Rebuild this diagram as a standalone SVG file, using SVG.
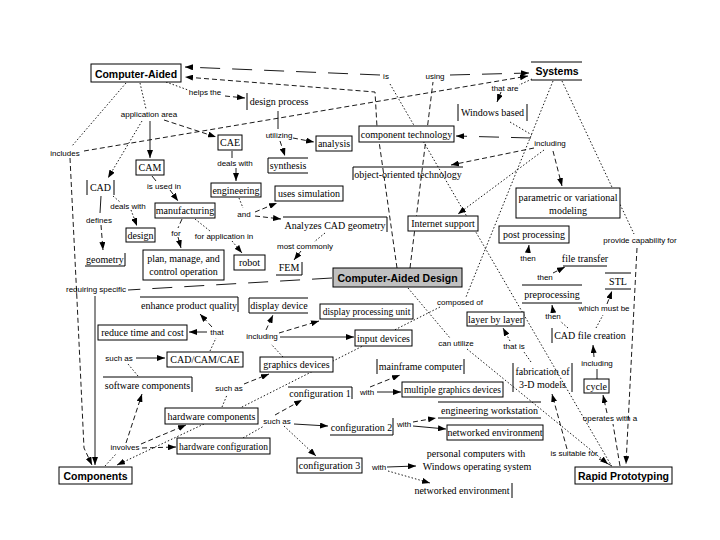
<svg xmlns="http://www.w3.org/2000/svg" width="720" height="540" viewBox="0 0 720 540">
<style>
.m{font:bold 10.5px "Liberation Sans",Arial,sans-serif;text-anchor:middle;fill:#000}
.n{font:10px "Liberation Serif","Times New Roman",serif;text-anchor:middle;fill:#000}
.lb{font:8px "Liberation Sans",Arial,sans-serif;text-anchor:middle;fill:#000}
.b{fill:#fff;stroke:#000;stroke-width:1}
.p{fill:none;stroke:#000;stroke-width:1}
#connectors line,#connectors path{fill:none;stroke:#000;stroke-width:0.9}
.d{stroke-dasharray:5,3}
.t{stroke-dasharray:1.5,2}
.ld{stroke-dasharray:20,12}
</style>
<defs>
<marker id="a" markerWidth="8" markerHeight="6" refX="8" refY="3" orient="auto" markerUnits="userSpaceOnUse">
<path d="M0,0 L8,3 L0,6 z" fill="#000"/>
</marker>
</defs>
<rect width="720" height="540" fill="#fff"/>
<g id="connectors">
<line class="ld" x1="380" y1="75" x2="185" y2="67" marker-end="url(#a)"/>
<line class="ld" x1="450" y1="75" x2="529" y2="73" marker-end="url(#a)"/>
<path class="d" d="M397,268 L377,127 L375,92 L185,77" marker-end="url(#a)"/>
<line class="d" x1="410" y1="268" x2="433" y2="82"/>
<line class="t" x1="390" y1="84" x2="611" y2="465"/>
<line class="d" x1="84" y1="151" x2="528" y2="76" marker-end="url(#a)"/>
<line class="t" x1="166" y1="82" x2="188" y2="90"/>
<line class="d" x1="225" y1="96" x2="245" y2="98" marker-end="url(#a)"/>
<line class="t" x1="140" y1="83" x2="146" y2="109"/>
<line class="t" x1="126" y1="83" x2="72" y2="146"/>
<line class="t" x1="142" y1="121" x2="108" y2="178" marker-end="url(#a)"/>
<line x1="150" y1="121" x2="150" y2="158" marker-end="url(#a)"/>
<line class="d" x1="164" y1="120" x2="216" y2="137" marker-end="url(#a)"/>
<line x1="278" y1="111" x2="278" y2="129"/>
<line class="d" x1="293" y1="138" x2="314" y2="142" marker-end="url(#a)"/>
<line class="d" x1="280" y1="141" x2="285" y2="156" marker-end="url(#a)"/>
<line x1="232" y1="151" x2="232" y2="158"/>
<line class="d" x1="236" y1="168" x2="236" y2="181" marker-end="url(#a)"/>
<line x1="152" y1="176" x2="156" y2="181"/>
<line class="d" x1="170" y1="190" x2="178" y2="201" marker-end="url(#a)"/>
<line x1="101" y1="196" x2="100" y2="213"/>
<line class="d" x1="101" y1="225" x2="103" y2="250" marker-end="url(#a)"/>
<line class="t" x1="113" y1="196" x2="120" y2="202"/>
<line class="t" x1="131" y1="210" x2="137" y2="226" marker-end="url(#a)"/>
<line class="d" x1="182" y1="219" x2="178" y2="228"/>
<line class="d" x1="178" y1="237" x2="181" y2="248" marker-end="url(#a)"/>
<line class="t" x1="195" y1="219" x2="210" y2="231"/>
<line class="t" x1="232" y1="241" x2="242" y2="253" marker-end="url(#a)"/>
<line class="t" x1="239" y1="198" x2="243" y2="208"/>
<line class="d" x1="255" y1="212" x2="277" y2="203" marker-end="url(#a)"/>
<line class="d" x1="255" y1="216" x2="281" y2="219" marker-end="url(#a)"/>
<line class="t" x1="325" y1="233" x2="314" y2="242"/>
<line class="d" x1="301" y1="251" x2="294" y2="260" marker-end="url(#a)"/>
<line class="ld" x1="332" y1="278" x2="128" y2="290"/>
<line x1="95" y1="296" x2="95" y2="465" marker-end="url(#a)"/>
<path class="d" d="M70,158 L77,300 L84,448 L92,465" marker-end="url(#a)"/>
<line class="t" x1="532" y1="79" x2="519" y2="85"/>
<line class="d" x1="501" y1="92" x2="497" y2="102" marker-end="url(#a)"/>
<line class="t" x1="510" y1="122" x2="532" y2="135"/>
<line class="ld" x1="531" y1="138" x2="456" y2="136" marker-end="url(#a)"/>
<line class="d" x1="534" y1="148" x2="451" y2="165" marker-end="url(#a)"/>
<line class="d" x1="553" y1="151" x2="562" y2="186" marker-end="url(#a)"/>
<line class="t" x1="544" y1="150" x2="458" y2="214" marker-end="url(#a)"/>
<line class="t" x1="553" y1="81" x2="466" y2="297"/>
<line class="t" x1="440" y1="307" x2="240" y2="408"/>
<line class="t" x1="562" y1="81" x2="634" y2="234"/>
<line class="d" x1="637" y1="248" x2="626" y2="464" marker-end="url(#a)"/>
<line class="t" x1="408" y1="288" x2="450" y2="338"/>
<line class="t" x1="467" y1="349" x2="608" y2="464" marker-end="url(#a)"/>
<line x1="612" y1="466" x2="599" y2="459"/>
<line class="d" x1="567" y1="449" x2="552" y2="394" marker-end="url(#a)"/>
<line class="d" x1="620" y1="466" x2="613" y2="424"/>
<line class="d" x1="607" y1="413" x2="603" y2="395" marker-end="url(#a)"/>
<line x1="597" y1="379" x2="597" y2="369"/>
<line class="d" x1="594" y1="357" x2="593" y2="345" marker-end="url(#a)"/>
<line class="t" x1="568" y1="328" x2="560" y2="321"/>
<line x1="553" y1="311" x2="552" y2="305" marker-end="url(#a)"/>
<line class="d" x1="553" y1="273" x2="565" y2="267" marker-end="url(#a)"/>
<line x1="528" y1="252" x2="529" y2="245" marker-end="url(#a)"/>
<line class="t" x1="596" y1="328" x2="603" y2="315"/>
<line class="d" x1="607" y1="304" x2="612" y2="291" marker-end="url(#a)"/>
<line class="t" x1="531" y1="362" x2="524" y2="352"/>
<line class="t" x1="510" y1="341" x2="503" y2="328" marker-end="url(#a)"/>
<line x1="136" y1="358" x2="165" y2="358" marker-end="url(#a)"/>
<line class="t" x1="138" y1="376" x2="128" y2="364"/>
<line class="t" x1="210" y1="351" x2="216" y2="338"/>
<line x1="207" y1="332" x2="189" y2="332" marker-end="url(#a)"/>
<line class="d" x1="212" y1="327" x2="200" y2="314" marker-end="url(#a)"/>
<line class="t" x1="105" y1="466" x2="116" y2="454"/>
<line class="d" x1="126" y1="443" x2="142" y2="394" marker-end="url(#a)"/>
<line class="d" x1="141" y1="444" x2="186" y2="425" marker-end="url(#a)"/>
<line class="d" x1="142" y1="448" x2="176" y2="447" marker-end="url(#a)"/>
<line class="t" x1="204" y1="424" x2="117" y2="465" marker-end="url(#a)"/>
<line class="t" x1="222" y1="407" x2="227" y2="395"/>
<line class="d" x1="244" y1="384" x2="269" y2="374" marker-end="url(#a)"/>
<line class="t" x1="243" y1="438" x2="264" y2="426"/>
<line class="d" x1="275" y1="415" x2="302" y2="400" marker-end="url(#a)"/>
<line x1="294" y1="424" x2="328" y2="426" marker-end="url(#a)"/>
<line class="t" x1="284" y1="426" x2="316" y2="456" marker-end="url(#a)"/>
<line class="t" x1="283" y1="357" x2="271" y2="344"/>
<line class="d" x1="266" y1="330" x2="273" y2="315" marker-end="url(#a)"/>
<line class="d" x1="279" y1="333" x2="319" y2="321" marker-end="url(#a)"/>
<line x1="280" y1="337" x2="354" y2="337" marker-end="url(#a)"/>
<line class="d" x1="370" y1="387" x2="400" y2="375" marker-end="url(#a)"/>
<line x1="377" y1="392" x2="401" y2="392" marker-end="url(#a)"/>
<line class="d" x1="413" y1="422" x2="436" y2="418" marker-end="url(#a)"/>
<line x1="413" y1="426" x2="446" y2="429" marker-end="url(#a)"/>
<line x1="387" y1="467" x2="416" y2="466" marker-end="url(#a)"/>
<line class="t" x1="388" y1="471" x2="430" y2="483" marker-end="url(#a)"/>
</g>
<g id="n-computer-aided"><rect class="b" x="91" y="64" width="90" height="18"/><text class="m" x="136" y="77.5">Computer-Aided</text></g>
<g id="n-systems"><path class="p" d="M531,62H582M531,80H582"/><text class="m" x="557" y="75">Systems</text></g>
<g id="n-design-process"><path class="p" d="M247,93V110"/><text class="n" x="279" y="105">design process</text></g>
<g id="n-cae"><rect class="b" x="218" y="135" width="24" height="15"/><text class="n" x="230" y="146">CAE</text></g>
<g id="n-cam"><rect class="b" x="136" y="160" width="28" height="15"/><text class="n" x="150" y="171">CAM</text></g>
<g id="n-cad"><path class="p" d="M87,180V195M114,180V195"/><text class="n" x="100.5" y="191">CAD</text></g>
<g id="n-engineering"><rect class="b" x="211" y="183" width="50" height="14"/><text class="n" x="236" y="194">engineering</text></g>
<g id="n-analysis"><rect class="b" x="316" y="136" width="36" height="15"/><text class="n" x="334" y="147">analysis</text></g>
<g id="n-synthesis"><path class="p" d="M308,158H268V173H308"/><text class="n" x="288" y="169">synthesis</text></g>
<g id="n-component-technology"><rect class="b" x="359" y="126" width="95" height="16"/><text class="n" x="406.5" y="138">component technology</text></g>
<g id="n-object-oriented"><path class="p" d="M353,180V167H463"/><text class="n" x="408" y="178">object-oriented technology</text></g>
<g id="n-uses-simulation"><rect class="b" x="275" y="186" width="68" height="15"/><text class="n" x="309" y="197">uses simulation</text></g>
<g id="n-windows-based"><path class="p" d="M458,104V121M527,104V121"/><text class="n" x="492.5" y="116">Windows based</text></g>
<g id="n-parametric"><rect class="b" x="516" y="188" width="104" height="30"/><text class="n" x="568" y="201">parametric or variational</text><text class="n" x="568" y="214">modeling</text></g>
<g id="n-internet-support"><rect class="b" x="408" y="216" width="70" height="15"/><text class="n" x="443" y="227">Internet support</text></g>
<g id="n-analyzes"><path class="p" d="M283,217H387V232"/><text class="n" x="335" y="228.5">Analyzes CAD geometry</text></g>
<g id="n-fem"><path class="p" d="M276,275H302V262"/><text class="n" x="289" y="271">FEM</text></g>
<g id="n-cad-design"><rect x="333" y="268" width="129" height="19" fill="#c0c0c0" stroke="#000"/><text class="m" x="397.5" y="281.5">Computer-Aided Design</text></g>
<g id="n-post-processing"><rect class="b" x="499" y="226" width="70" height="17"/><text class="n" x="534" y="238">post processing</text></g>
<g id="n-file-transfer"><path class="p" d="M563,266H607"/><text class="n" x="585" y="262">file transfer</text></g>
<g id="n-preprocessing"><path class="p" d="M522,285H582M522,303H582"/><text class="n" x="552" y="297.5">preprocessing</text></g>
<g id="n-stl"><path class="p" d="M605,273H631M605,289H631"/><text class="n" x="618" y="284.5">STL</text></g>
<g id="n-cad-file-creation"><path class="p" d="M552,328V343"/><text class="n" x="590" y="339">CAD file creation</text></g>
<g id="n-layer-by-layer"><rect class="b" x="467" y="312" width="57" height="14"/><text class="n" x="495.5" y="323">layer by layer</text></g>
<g id="n-fabrication"><path class="p" d="M513,363V392M572,363V392"/><text class="n" x="542.5" y="375">fabrication of</text><text class="n" x="542.5" y="388">3-D models</text></g>
<g id="n-cycle"><rect class="b" x="584" y="379" width="25" height="14"/><text class="n" x="596.5" y="390">cycle</text></g>
<g id="n-rapid-prototyping"><rect class="b" x="575" y="467" width="97" height="17"/><text class="m" x="623.5" y="479.5">Rapid Prototyping</text></g>
<g id="n-display-device"><path class="p" d="M308,298H249V313H308"/><text class="n" x="279" y="309">display device</text></g>
<g id="n-display-processing"><rect class="b" x="320" y="304" width="93" height="15"/><text class="n" x="366.5" y="315" style="font-size:9.5px">display processing unit</text></g>
<g id="n-input-devices"><rect class="b" x="355" y="330" width="57" height="16"/><text class="n" x="383.5" y="342">input devices</text></g>
<g id="n-graphics-devices"><rect class="b" x="260" y="357" width="73" height="15"/><text class="n" x="296.5" y="368">graphics devices</text></g>
<g id="n-mainframe"><path class="p" d="M377,359V374M464,359V374"/><text class="n" x="420.5" y="370">mainframe computer</text></g>
<g id="n-multiple-graphics"><rect class="b" x="402" y="382" width="101" height="15"/><text class="n" x="452.5" y="393" style="font-size:9.5px">multiple graphics devices</text></g>
<g id="n-configuration-1"><path class="p" d="M288,387H352V399"/><text class="n" x="320" y="396.5">configuration 1</text></g>
<g id="n-configuration-2"><path class="p" d="M330,435H393V418"/><text class="n" x="361.5" y="431">configuration 2</text></g>
<g id="n-configuration-3"><rect class="b" x="297" y="458" width="65" height="15"/><text class="n" x="329.5" y="469">configuration 3</text></g>
<g id="n-engineering-workstation"><path class="p" d="M438,402H541M438,418H541"/><text class="n" x="489.5" y="413.5">engineering workstation</text></g>
<g id="n-networked-1"><rect class="b" x="447" y="425" width="96" height="15"/><text class="n" x="495" y="436">networked environment</text></g>
<g id="n-personal-computers"><text class="n" x="476" y="457">personal computers with</text><text class="n" x="477" y="470">Windows operating system</text></g>
<g id="n-networked-2"><path class="p" d="M512,483V498"/><text class="n" x="462" y="494">networked environment</text></g>
<g id="n-components"><rect class="b" x="59" y="467" width="73" height="17"/><text class="m" x="95.5" y="479.5">Components</text></g>
<g id="n-hardware-configuration"><rect class="b" x="177" y="438" width="93" height="16"/><text class="n" x="223.5" y="450" style="font-size:9.5px">hardware configuration</text></g>
<g id="n-hardware-components"><rect class="b" x="165" y="408" width="93" height="16"/><text class="n" x="211.5" y="420">hardware components</text></g>
<g id="n-software-components"><path class="p" d="M103,377H192V392"/><text class="n" x="147.5" y="389">software components</text></g>
<g id="n-cad-cam-cae"><rect class="b" x="167" y="352" width="76" height="15"/><text class="n" x="205" y="363">CAD/CAM/CAE</text></g>
<g id="n-reduce-time"><rect class="b" x="98" y="325" width="89" height="15"/><text class="n" x="142.5" y="336">reduce time and cost</text></g>
<g id="n-enhance-quality"><path class="p" d="M140,297H238V312"/><text class="n" x="189" y="308.5">enhance product quality</text></g>
<g id="n-geometry"><path class="p" d="M85,266H125V253"/><text class="n" x="105" y="262.5">geometry</text></g>
<g id="n-design"><rect class="b" x="126" y="228" width="29" height="14"/><text class="n" x="140.5" y="238.5">design</text></g>
<g id="n-manufacturing"><rect class="b" x="155" y="203" width="60" height="15"/><text class="n" x="185" y="214">manufacturing</text></g>
<g id="n-plan"><rect class="b" x="143" y="250" width="81" height="30"/><text class="n" x="183.5" y="262">plan, manage, and</text><text class="n" x="183.5" y="275">control operation</text></g>
<g id="n-robot"><rect class="b" x="234" y="255" width="31" height="15"/><text class="n" x="249.5" y="266">robot</text></g>
<g id="l-helps"><text class="lb" x="205" y="95">helps the</text></g>
<g id="l-application"><text class="lb" x="149" y="117">application area</text></g>
<g id="l-includes"><text class="lb" x="65" y="156">includes</text></g>
<g id="l-deals-cae"><text class="lb" x="235" y="166">deals with</text></g>
<g id="l-used-in"><text class="lb" x="164" y="189">is used in</text></g>
<g id="l-utilizing"><text class="lb" x="279" y="138">utilizing</text></g>
<g id="l-is"><text class="lb" x="386" y="79">is</text></g>
<g id="l-using"><text class="lb" x="435" y="79">using</text></g>
<g id="l-that-are"><text class="lb" x="505" y="91">that are</text></g>
<g id="l-including-sys"><text class="lb" x="550" y="146">including</text></g>
<g id="l-and"><text class="lb" x="244" y="217">and</text></g>
<g id="l-deals-cad"><text class="lb" x="128" y="209">deals with</text></g>
<g id="l-defines"><text class="lb" x="99" y="223">defines</text></g>
<g id="l-for"><text class="lb" x="176" y="236">for</text></g>
<g id="l-for-application"><text class="lb" x="224" y="239">for application in</text></g>
<g id="l-most-commonly"><text class="lb" x="305" y="249">most commonly</text></g>
<g id="l-requiring"><text class="lb" x="96" y="292">requiring specific</text></g>
<g id="l-that"><text class="lb" x="217" y="335">that</text></g>
<g id="l-including-gd"><text class="lb" x="262" y="339">including</text></g>
<g id="l-such-as-1"><text class="lb" x="119" y="361">such as</text></g>
<g id="l-such-as-2"><text class="lb" x="229" y="391">such as</text></g>
<g id="l-involves"><text class="lb" x="125" y="450">involves</text></g>
<g id="l-such-as-3"><text class="lb" x="277" y="424">such as</text></g>
<g id="l-with-1"><text class="lb" x="367" y="395">with</text></g>
<g id="l-with-2"><text class="lb" x="404" y="427">with</text></g>
<g id="l-with-3"><text class="lb" x="379" y="470">with</text></g>
<g id="l-can-utilize"><text class="lb" x="456" y="346">can utilize</text></g>
<g id="l-composed"><text class="lb" x="460" y="305">composed of</text></g>
<g id="l-that-is"><text class="lb" x="514" y="349">that is</text></g>
<g id="l-including-cyc"><text class="lb" x="597" y="366">including</text></g>
<g id="l-operates"><text class="lb" x="610" y="421">operates with a</text></g>
<g id="l-suitable"><text class="lb" x="574" y="456">is suitable for</text></g>
<g id="l-provide"><text class="lb" x="640" y="243">provide capability for</text></g>
<g id="l-then-1"><text class="lb" x="528" y="261">then</text></g>
<g id="l-then-2"><text class="lb" x="545" y="280">then</text></g>
<g id="l-which"><text class="lb" x="604" y="311">which must be</text></g>
<g id="l-then-3"><text class="lb" x="553" y="319">then</text></g>
</svg>
